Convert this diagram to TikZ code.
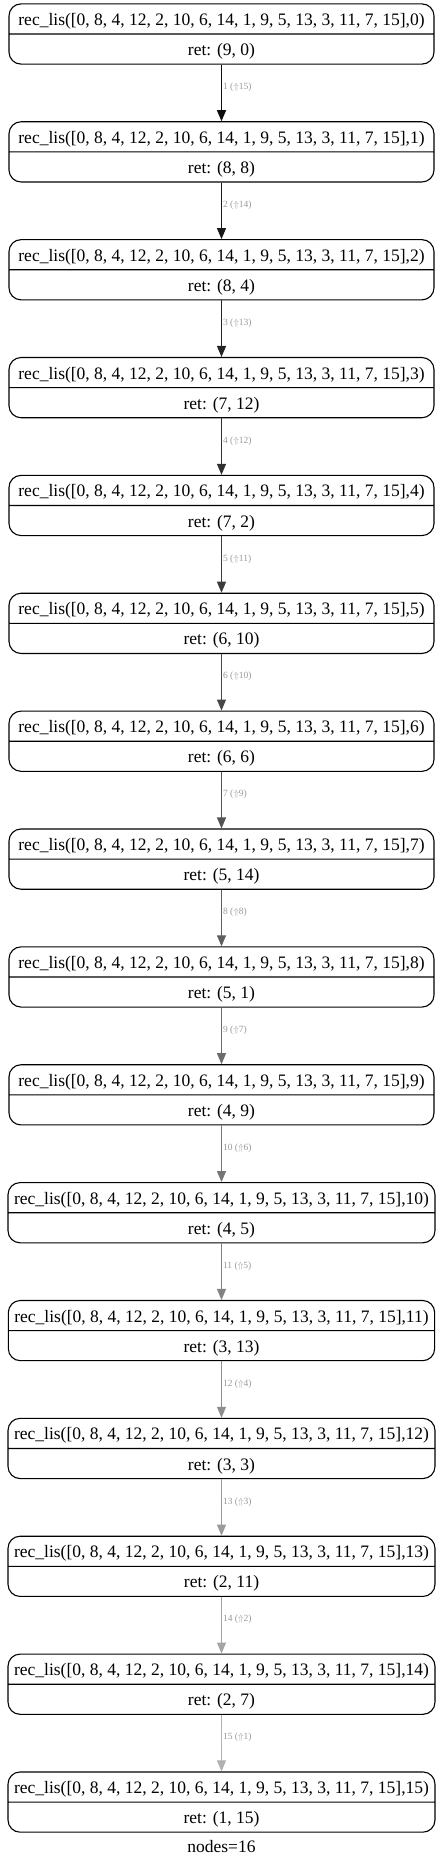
\documentclass[tikz,border=0pt]{standalone}
\usepackage{fontspec}
\setmainfont{Liberation Serif}
\usetikzlibrary{shapes.multipart,arrows.meta}
\newcommand{\callstrut}{\rule[-4.5pt]{0pt}{22pt}}
\begin{document}
\begin{tikzpicture}[x=1pt,y=-1pt,
    call/.style={rectangle split, rectangle split parts=2, draw, line width=1.1pt,
      rounded corners=12pt, minimum width=425pt, inner xsep=6pt, inner ysep=3.5pt,
      font=\fontsize{17.5}{20}\selectfont},
    edgelab/.style={font=\fontsize{9.5}{11}\selectfont, text=black!40, inner sep=1pt}]
    \useasboundingbox (0,0) rectangle (443,1866);
    \foreach \r [count=\i from 0] in {{9, 0},{8, 8},{8, 4},{7, 12},{7, 2},{6, 10},{6, 6},{5, 14},
        {5, 1},{4, 9},{4, 5},{3, 13},{3, 3},{2, 11},{2, 7},{1, 15}}{
        \node[call] (c\i) at (221.5,34+117.87*\i)
            {\callstrut rec\_lis([0, 8, 4, 12, 2, 10, 6, 14, 1, 9, 5, 13, 3, 11, 7, 15],\i)
             \nodepart{two}\callstrut ret: (\r)};
    }
    \foreach \i in {1,...,15}{
        \pgfmathtruncatemacro\j{\i-1}
        \pgfmathtruncatemacro\k{16-\i}
        \pgfmathsetmacro\p{95-4.6*(\i-1)}
        \draw[-{Triangle[length=11pt,width=9pt]}, line width=1.1pt, black!\p!white] (c\j.south) -- (c\i.north)
            node[edgelab, pos=0.4, right] {\i{} ($\Uparrow$\k)};
    }
    \node[font=\fontsize{17.5}{20}\selectfont] (count) at (221.5,1846) {nodes=16};
\end{tikzpicture}
\end{document}
